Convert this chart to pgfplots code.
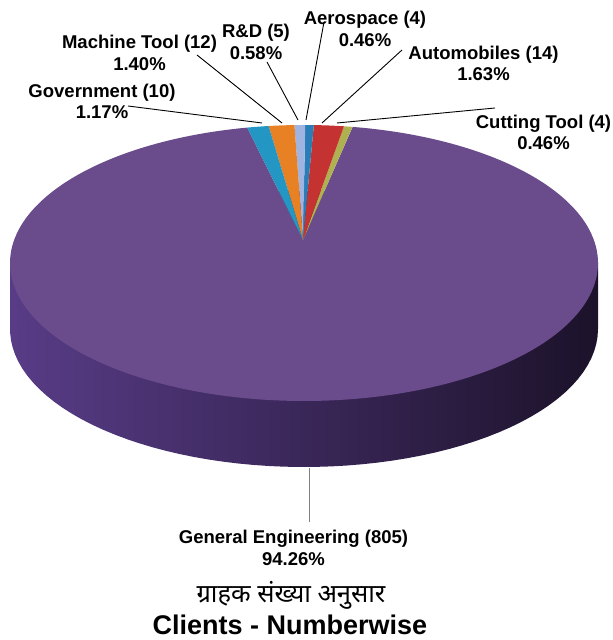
\documentclass[border=0pt]{standalone}
\usepackage{pgfplots}
\pgfplotsset{compat=1.18}
\usepackage{pgfplotstable}
\usepackage{fontspec}
\setmainfont{Liberation Sans}
\newfontfamily\devfont[Script=Devanagari]{Noto Sans}

\definecolor{cTop}{HTML}{6A4C8C}
\definecolor{cSideL}{HTML}{583C87}
\definecolor{cSideM}{HTML}{371E5A}
\definecolor{cSideR}{HTML}{1C122A}
\definecolor{cGov}{HTML}{2396C3}
\definecolor{cMach}{HTML}{E88024}
\definecolor{cRnD}{HTML}{A0B4E1}
\definecolor{cAero}{HTML}{2B7DB8}
\definecolor{cAuto}{HTML}{C43232}
\definecolor{cCut}{HTML}{AFB050}

% client counts, counter-clockwise from the right edge of the small group
\pgfplotstableread{
name count
CuttingTool 4
Automobiles 14
Aerospace 4
RnD 5
MachineTool 12
Government 10
GeneralEngineering 805
}\clientdata

% totals and cumulative angles (derived from the table)
\xdef\total{0}
\foreach \i in {0,...,6}{%
  \pgfplotstablegetelem{\i}{count}\of\clientdata
  \pgfmathsetmacro\t{\total+\pgfplotsretval}%
  \xdef\total{\t}%
}
\expandafter\xdef\csname ang0\endcsname{80.5}
\foreach \i [evaluate=\i as \j using int(\i+1)] in {0,...,6}{%
  \pgfplotstablegetelem{\i}{count}\of\clientdata
  \pgfmathsetmacro\t{\csname ang\i\endcsname+\pgfplotsretval/\total*360}%
  \expandafter\xdef\csname ang\j\endcsname{\t}%
}
\def\ang#1{\csname ang#1\endcsname}

% pie geometry (picture units)
\def\cx{304}\def\cy{377}\def\rx{294}\def\ry{138}\def\dep{66}
\def\ax{303}\def\ay{400}

\begin{document}
\begin{tikzpicture}[
  lbl/.style={font=\bfseries\fontsize{18.5}{21.5}\selectfont, align=center, inner sep=0pt, text=black},
]
\begin{axis}[
  scale only axis, width=613pt, height=640pt,
  xmin=0, xmax=613, ymin=0, ymax=640,
  hide axis, clip=false,
]
\path (axis cs:0,0) rectangle (axis cs:613,640);

% side of the cylinder
\addplot[draw=none, left color=cSideL, middle color=cSideM, right color=cSideR,
  domain=0:360, samples=120]
  ({\cx+\rx*cos(x)}, {\cy-\dep+\ry*sin(x)}) -- cycle;
\addplot[draw=none, left color=cSideL, middle color=cSideM, right color=cSideR]
  coordinates {(10,311) (598,311) (598,377) (10,377)} -- cycle;

% top face slices
\addplot[draw=none, fill=cTop, domain=\ang6:\ang7, samples=200]
  ({\cx+\rx*cos(x)}, {\cy+\ry*sin(x)}) -- (\ax,\ay) -- cycle;
\addplot[draw=none, fill=cCut, domain=\ang0:\ang1, samples=6]
  ({\cx+\rx*cos(x)}, {\cy+\ry*sin(x)}) -- (\ax,\ay) -- cycle;
\addplot[draw=none, fill=cAuto, domain=\ang1:\ang2, samples=6]
  ({\cx+\rx*cos(x)}, {\cy+\ry*sin(x)}) -- (\ax,\ay) -- cycle;
\addplot[draw=none, fill=cAero, domain=\ang2:\ang3, samples=6]
  ({\cx+\rx*cos(x)}, {\cy+\ry*sin(x)}) -- (\ax,\ay) -- cycle;
\addplot[draw=none, fill=cRnD, domain=\ang3:\ang4, samples=6]
  ({\cx+\rx*cos(x)}, {\cy+\ry*sin(x)}) -- (\ax,\ay) -- cycle;
\addplot[draw=none, fill=cMach, domain=\ang4:\ang5, samples=6]
  ({\cx+\rx*cos(x)}, {\cy+\ry*sin(x)}) -- (\ax,\ay) -- cycle;
\addplot[draw=none, fill=cGov, domain=\ang5:\ang6, samples=6]
  ({\cx+\rx*cos(x)}, {\cy+\ry*sin(x)}) -- (\ax,\ay) -- cycle;

% leader lines
\addplot[black, line width=0.9pt] coordinates {(128,534) (262,517)};
\addplot[black, line width=0.9pt] coordinates {(197,585) (282,517)};
\addplot[black, line width=0.9pt] coordinates {(267,578) (298,520)};
\addplot[black, line width=0.9pt] coordinates {(324,618) (306,520)};
\addplot[black, line width=0.9pt] coordinates {(402,590) (322,517)};
\addplot[black, line width=0.9pt] coordinates {(495,532) (337,517)};
\addplot[gray, line width=1pt] coordinates {(309,172) (309,118)};

% labels
\node[lbl] at (axis cs:102,538.5) {Government (10)\\1.17\%};
\node[lbl] at (axis cs:139.5,587) {Machine Tool (12)\\1.40\%};
\node[lbl] at (axis cs:256,598) {R\&D (5)\\0.58\%};
\node[lbl] at (axis cs:365,611) {Aerospace (4)\\0.46\%};
\node[lbl] at (axis cs:483.5,576.5) {Automobiles (14)\\1.63\%};
\node[lbl] at (axis cs:543.5,507.5) {Cutting Tool (4)\\0.46\%};
\node[lbl] at (axis cs:293.5,92) {General Engineering (805)\\94.26\%};
\node[inner sep=0pt, font=\devfont\fontsize{25.5}{28}\selectfont] at (axis cs:291,45) {ग्राहक संख्या अनुसार};
\node[inner sep=0pt, font=\bfseries\fontsize{27}{30}\selectfont] at (axis cs:290,15) {Clients - Numberwise};
\end{axis}
\end{tikzpicture}
\end{document}
